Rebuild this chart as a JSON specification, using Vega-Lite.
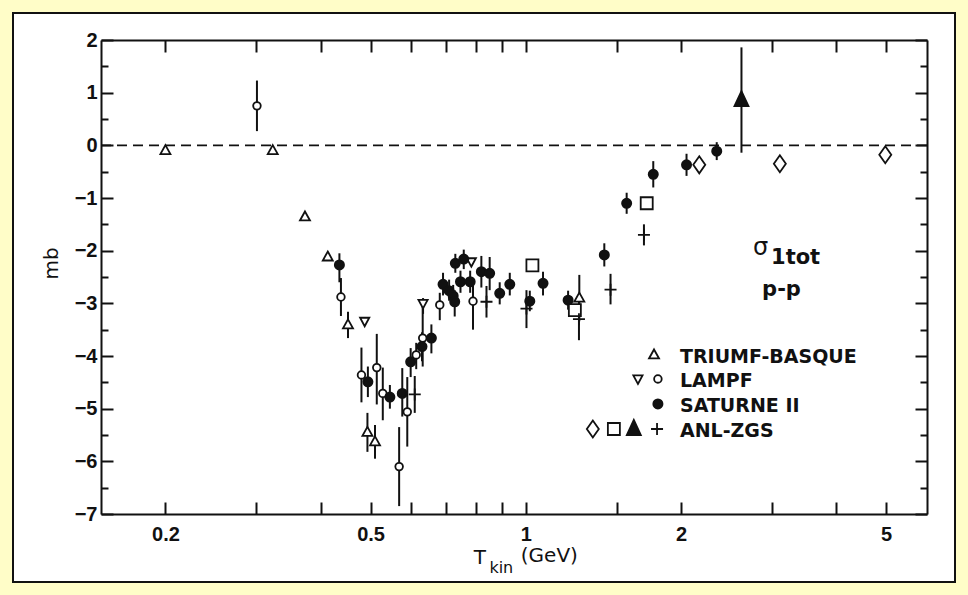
{
  "$schema": "https://vega.github.io/schema/vega-lite/v6.json",
  "width": 942,
  "height": 569,
  "autosize": {"type": "none"},
  "padding": 13,
  "background": "#FFFDC8",
  "config": {
    "view": {"fill": "white", "stroke": "#111", "strokeWidth": 2},
    "axis": {
      "grid": false,
      "domainColor": "#111",
      "domainWidth": 2,
      "tickColor": "#111",
      "tickWidth": 2,
      "labelColor": "#111",
      "labelFont": "Liberation Sans",
      "labelFontWeight": "bold",
      "labelFontSize": 20,
      "labelOverlap": false,
      "labelFlush": false,
      "titleColor": "#111"
    },
    "text": {"color": "#111", "font": "DejaVu Sans"}
  },
  "datasets": {
    "points": [
      {"set": "TRIUMF-BASQUE", "sym": "tri", "T": 0.200, "v": -0.10},
      {"set": "TRIUMF-BASQUE", "sym": "tri", "T": 0.323, "v": -0.10},
      {"set": "TRIUMF-BASQUE", "sym": "tri", "T": 0.373, "v": -1.36},
      {"set": "TRIUMF-BASQUE", "sym": "tri", "T": 0.413, "v": -2.12},
      {"set": "TRIUMF-BASQUE", "sym": "tri", "T": 0.452, "v": -3.41, "lo": -3.66, "hi": -3.16},
      {"set": "TRIUMF-BASQUE", "sym": "tri", "T": 0.493, "v": -5.45, "lo": -5.82, "hi": -5.08},
      {"set": "TRIUMF-BASQUE", "sym": "tri", "T": 0.510, "v": -5.63, "lo": -5.95, "hi": -5.31},
      {"set": "TRIUMF-BASQUE", "sym": "tri", "T": 1.270, "v": -2.90, "lo": -3.34, "hi": -2.46},
      {"set": "LAMPF", "sym": "tridown", "T": 0.487, "v": -3.34},
      {"set": "LAMPF", "sym": "tridown", "T": 0.632, "v": -3.00, "lo": -3.20, "hi": -2.90},
      {"set": "LAMPF", "sym": "tridown", "T": 0.784, "v": -2.21},
      {"set": "LAMPF", "sym": "circ", "T": 0.301, "v": 0.75, "lo": 0.27, "hi": 1.23},
      {"set": "LAMPF", "sym": "circ", "T": 0.438, "v": -2.88, "lo": -3.24, "hi": -2.52},
      {"set": "LAMPF", "sym": "circ", "T": 0.480, "v": -4.36, "lo": -4.88, "hi": -3.84},
      {"set": "LAMPF", "sym": "circ", "T": 0.514, "v": -4.22, "lo": -4.92, "hi": -3.58},
      {"set": "LAMPF", "sym": "circ", "T": 0.528, "v": -4.71, "lo": -5.22, "hi": -4.22},
      {"set": "LAMPF", "sym": "circ", "T": 0.568, "v": -6.10, "lo": -6.85, "hi": -5.35},
      {"set": "LAMPF", "sym": "circ", "T": 0.589, "v": -5.06, "lo": -5.72, "hi": -4.40},
      {"set": "LAMPF", "sym": "circ", "T": 0.613, "v": -3.98, "lo": -4.25, "hi": -3.75},
      {"set": "LAMPF", "sym": "circ", "T": 0.631, "v": -3.66, "lo": -4.20, "hi": -3.05},
      {"set": "LAMPF", "sym": "circ", "T": 0.681, "v": -3.03, "lo": -3.32, "hi": -2.80},
      {"set": "LAMPF", "sym": "circ", "T": 0.790, "v": -2.96, "lo": -3.50, "hi": -2.60},
      {"set": "SATURNE II", "sym": "dot", "T": 0.435, "v": -2.27, "lo": -2.60, "hi": -2.05},
      {"set": "SATURNE II", "sym": "dot", "T": 0.494, "v": -4.49, "lo": -4.78, "hi": -4.20},
      {"set": "SATURNE II", "sym": "dot", "T": 0.545, "v": -4.78, "lo": -5.00, "hi": -4.55},
      {"set": "SATURNE II", "sym": "dot", "T": 0.576, "v": -4.71, "lo": -5.15, "hi": -4.23},
      {"set": "SATURNE II", "sym": "dot", "T": 0.598, "v": -4.11, "lo": -4.40, "hi": -3.85},
      {"set": "SATURNE II", "sym": "dot", "T": 0.629, "v": -3.82, "lo": -4.10, "hi": -3.55},
      {"set": "SATURNE II", "sym": "dot", "T": 0.656, "v": -3.66, "lo": -3.95, "hi": -3.40},
      {"set": "SATURNE II", "sym": "dot", "T": 0.691, "v": -2.64, "lo": -2.85, "hi": -2.42},
      {"set": "SATURNE II", "sym": "dot", "T": 0.710, "v": -2.76, "lo": -2.95, "hi": -2.55},
      {"set": "SATURNE II", "sym": "dot", "T": 0.723, "v": -2.86, "lo": -3.05, "hi": -2.65},
      {"set": "SATURNE II", "sym": "dot", "T": 0.728, "v": -2.97, "lo": -3.25, "hi": -2.75},
      {"set": "SATURNE II", "sym": "dot", "T": 0.730, "v": -2.24, "lo": -2.42, "hi": -2.06},
      {"set": "SATURNE II", "sym": "dot", "T": 0.758, "v": -2.16, "lo": -2.35, "hi": -1.98},
      {"set": "SATURNE II", "sym": "dot", "T": 0.747, "v": -2.59, "lo": -2.80, "hi": -2.38},
      {"set": "SATURNE II", "sym": "dot", "T": 0.780, "v": -2.59, "lo": -2.80, "hi": -2.38},
      {"set": "SATURNE II", "sym": "dot", "T": 0.820, "v": -2.40, "lo": -2.70, "hi": -2.10},
      {"set": "SATURNE II", "sym": "dot", "T": 0.851, "v": -2.43, "lo": -2.75, "hi": -2.12},
      {"set": "SATURNE II", "sym": "dot", "T": 0.890, "v": -2.81, "lo": -3.02, "hi": -2.60},
      {"set": "SATURNE II", "sym": "dot", "T": 0.931, "v": -2.64, "lo": -2.85, "hi": -2.42},
      {"set": "SATURNE II", "sym": "dot", "T": 1.018, "v": -2.96, "lo": -3.15, "hi": -2.76},
      {"set": "SATURNE II", "sym": "dot", "T": 1.080, "v": -2.62, "lo": -2.85, "hi": -2.40},
      {"set": "SATURNE II", "sym": "dot", "T": 1.208, "v": -2.94, "lo": -3.12, "hi": -2.76},
      {"set": "SATURNE II", "sym": "dot", "T": 1.420, "v": -2.08, "lo": -2.30, "hi": -1.86},
      {"set": "SATURNE II", "sym": "dot", "T": 1.569, "v": -1.10, "lo": -1.30, "hi": -0.90},
      {"set": "SATURNE II", "sym": "dot", "T": 1.767, "v": -0.55, "lo": -0.80, "hi": -0.30},
      {"set": "SATURNE II", "sym": "dot", "T": 2.050, "v": -0.37, "lo": -0.58, "hi": -0.16},
      {"set": "SATURNE II", "sym": "dot", "T": 2.346, "v": -0.11, "lo": -0.28, "hi": 0.06},
      {"set": "ANL-ZGS", "sym": "diam", "T": 2.17, "v": -0.37},
      {"set": "ANL-ZGS", "sym": "diam", "T": 3.11, "v": -0.35},
      {"set": "ANL-ZGS", "sym": "diam", "T": 4.98, "v": -0.18},
      {"set": "ANL-ZGS", "sym": "sq", "T": 1.030, "v": -2.28},
      {"set": "ANL-ZGS", "sym": "sq", "T": 1.245, "v": -3.13},
      {"set": "ANL-ZGS", "sym": "sq", "T": 1.716, "v": -1.10},
      {"set": "ANL-ZGS", "sym": "trif", "T": 2.62, "v": 0.86, "lo": -0.14, "hi": 1.86},
      {"set": "ANL-ZGS", "sym": "plus", "T": 0.609, "v": -4.73, "lo": -5.08, "hi": -4.38},
      {"set": "ANL-ZGS", "sym": "plus", "T": 0.839, "v": -2.97, "lo": -3.27, "hi": -2.67},
      {"set": "ANL-ZGS", "sym": "plus", "T": 1.003, "v": -3.10, "lo": -3.47, "hi": -2.75},
      {"set": "ANL-ZGS", "sym": "plus", "T": 1.268, "v": -3.30, "lo": -3.70, "hi": -2.90},
      {"set": "ANL-ZGS", "sym": "plus", "T": 1.460, "v": -2.74, "lo": -3.02, "hi": -2.44},
      {"set": "ANL-ZGS", "sym": "plus", "T": 1.695, "v": -1.70, "lo": -1.90, "hi": -1.50}
    ],
    "legendSymbols": [
      {"sym": "tri", "T": 1.773, "v": -3.98},
      {"sym": "tridown", "T": 1.650, "v": -4.436},
      {"sym": "circ", "T": 1.804, "v": -4.436},
      {"sym": "dot", "T": 1.804, "v": -4.911},
      {"sym": "diam", "T": 1.349, "v": -5.386},
      {"sym": "sq", "T": 1.482, "v": -5.386},
      {"sym": "trif", "T": 1.620, "v": -5.386},
      {"sym": "plus", "T": 1.797, "v": -5.386}
    ],
    "legendLabels": [
      {"label": "TRIUMF-BASQUE", "T": 1.991, "v": -4.13},
      {"label": "LAMPF", "T": 1.991, "v": -4.59},
      {"label": "SATURNE II", "T": 1.991, "v": -5.06},
      {"label": "ANL-ZGS", "T": 1.991, "v": -5.54}
    ]
  },
  "layer": [
    {
      "description": "dashed zero line with the bottom and left axes",
      "data": {"values": [{}]},
      "mark": {"type": "rule", "stroke": "#111", "strokeWidth": 1.8, "strokeDash": [10, 6]},
      "encoding": {
        "x": {
          "datum": 0.15, "type": "quantitative",
          "scale": {"type": "log", "domain": [0.15, 6], "range": [88, 914], "nice": false},
          "axis": {
            "orient": "bottom", "offset": -68, "title": null,
            "values": [0.2, 0.3, 0.4, 0.5, 0.6, 0.7, 0.8, 0.9, 1, 1.5, 2, 3, 4, 5],
            "format": "~g",
            "labelExpr": "indexof([0.2, 0.5, 1, 2, 5], datum.value) >= 0 ? datum.label : ''",
            "tickSize": -12, "labelPadding": 22
          }
        },
        "x2": {"datum": 6},
        "y": {
          "datum": 0, "type": "quantitative",
          "scale": {"domain": [-7, 2], "range": [501, 27], "nice": false, "zero": false},
          "axis": {
            "orient": "left", "offset": -88,
            "values": [-7, -6, -5, -4, -3, -2, -1, 0, 1, 2],
            "format": "~g", "tickSize": -12, "labelPadding": 16,
            "title": "mb", "titleX": -40, "titleY": 250,
            "titleFont": "DejaVu Sans", "titleFontSize": 20, "titleFontWeight": "normal"
          }
        }
      }
    },
    {
      "description": "error bars with the top and right axes",
      "data": {"name": "points"},
      "transform": [{"filter": "datum.lo != null"}],
      "mark": {"type": "rule", "stroke": "#111", "strokeWidth": 2},
      "encoding": {
        "x": {
          "field": "T", "type": "quantitative",
          "scale": {"type": "log", "domain": [0.15, 6], "range": [88, 914], "nice": false},
          "axis": {
            "orient": "top", "offset": -27, "title": null, "labels": false,
            "values": [0.2, 0.3, 0.4, 0.5, 0.6, 0.7, 0.8, 0.9, 1, 1.5, 2, 3, 4, 5],
            "tickSize": -12
          }
        },
        "y": {
          "field": "lo", "type": "quantitative",
          "scale": {"domain": [-7, 2], "range": [501, 27], "nice": false, "zero": false},
          "axis": {
            "orient": "right", "offset": -28, "title": null, "labels": false,
            "values": [-7, -6, -5, -4, -3, -2, -1, 0, 1, 2], "tickSize": -12
          }
        },
        "y2": {"field": "hi"}
      }
    },
    {
      "description": "data symbols, with the left half-unit ticks",
      "data": {"name": "points"},
      "mark": {"type": "point", "size": 4, "stroke": "#111", "strokeWidth": 1.8, "opacity": 1},
      "encoding": {
        "x": {
          "field": "T", "type": "quantitative",
          "scale": {"type": "log", "domain": [0.15, 6], "range": [88, 914], "nice": false},
          "axis": null
        },
        "y": {
          "field": "v", "type": "quantitative",
          "scale": {"domain": [-7, 2], "range": [501, 27], "nice": false, "zero": false},
          "axis": {
            "orient": "left", "offset": -88, "title": null, "labels": false, "domain": false,
            "values": [-6.5, -5.5, -4.5, -3.5, -2.5, -1.5, -0.5, 0.5, 1.5], "tickSize": -7
          }
        },
        "shape": {
          "field": "sym", "type": "nominal", "legend": null,
          "scale": {
            "domain": ["tri", "tridown", "circ", "dot", "diam", "sq", "trif", "plus"],
            "range": [
              "M0,-5.5L5,3.5L-5,3.5Z",
              "M0,5L4.6,-3.5L-4.6,-3.5Z",
              "M-3.8,0A3.8,3.8,0,1,0,3.8,0A3.8,3.8,0,1,0,-3.8,0Z",
              "M-4.6,0A4.6,4.6,0,1,0,4.6,0A4.6,4.6,0,1,0,-4.6,0Z",
              "M0,-8.5L6,0L0,8.5L-6,0Z",
              "M-6,-6H6V6H-6Z",
              "M0,-9L7,6L-7,6Z",
              "M-6,0H6M0,-6V6"
            ]
          }
        },
        "fill": {
          "field": "sym", "type": "nominal", "legend": null,
          "scale": {
            "domain": ["tri", "tridown", "circ", "dot", "diam", "sq", "trif", "plus"],
            "range": ["white", "white", "white", "#111", "white", "white", "#111", "transparent"]
          }
        }
      }
    },
    {
      "description": "legend symbols, with the right half-unit ticks",
      "data": {"name": "legendSymbols"},
      "mark": {"type": "point", "size": 4, "stroke": "#111", "strokeWidth": 1.8, "opacity": 1},
      "encoding": {
        "x": {
          "field": "T", "type": "quantitative",
          "scale": {"type": "log", "domain": [0.15, 6], "range": [88, 914], "nice": false},
          "axis": null
        },
        "y": {
          "field": "v", "type": "quantitative",
          "scale": {"domain": [-7, 2], "range": [501, 27], "nice": false, "zero": false},
          "axis": {
            "orient": "right", "offset": -28, "title": null, "labels": false, "domain": false,
            "values": [-6.5, -5.5, -4.5, -3.5, -2.5, -1.5, -0.5, 0.5, 1.5], "tickSize": -7
          }
        },
        "shape": {"field": "sym", "type": "nominal", "legend": null},
        "fill": {"field": "sym", "type": "nominal", "legend": null}
      }
    },
    {
      "description": "legend labels",
      "data": {"name": "legendLabels"},
      "mark": {"type": "text", "align": "left", "baseline": "alphabetic", "fontSize": 19, "fontWeight": "bold"},
      "encoding": {
        "x": {"field": "T", "type": "quantitative", "scale": {"type": "log", "domain": [0.15, 6], "range": [88, 914], "nice": false}, "axis": null},
        "y": {"field": "v", "type": "quantitative", "scale": {"domain": [-7, 2], "range": [501, 27], "nice": false, "zero": false}, "axis": null},
        "text": {"field": "label"}
      }
    },
    {
      "description": "sigma of the observable label",
      "data": {"values": [{"label": "σ", "T": 2.76, "v": -2.09}]},
      "mark": {"type": "text", "align": "left", "baseline": "alphabetic", "fontSize": 24},
      "encoding": {
        "x": {"field": "T", "type": "quantitative", "scale": {"type": "log", "domain": [0.15, 6], "range": [88, 914], "nice": false}, "axis": null},
        "y": {"field": "v", "type": "quantitative", "scale": {"domain": [-7, 2], "range": [501, 27], "nice": false, "zero": false}, "axis": null},
        "text": {"field": "label"}
      }
    },
    {
      "description": "subscript of the observable and the reaction",
      "data": {"values": [{"label": "1tot", "T": 2.99, "v": -2.253}, {"label": "p-p", "T": 2.873, "v": -2.86}]},
      "mark": {"type": "text", "align": "left", "baseline": "alphabetic", "fontSize": 21, "fontWeight": "bold"},
      "encoding": {
        "x": {"field": "T", "type": "quantitative", "scale": {"type": "log", "domain": [0.15, 6], "range": [88, 914], "nice": false}, "axis": null},
        "y": {"field": "v", "type": "quantitative", "scale": {"domain": [-7, 2], "range": [501, 27], "nice": false, "zero": false}, "axis": null},
        "text": {"field": "label"}
      }
    },
    {
      "description": "x axis title: T and unit",
      "data": {"values": [{"label": "T", "T": 0.793, "v": -7.95}, {"label": "(GeV)", "T": 0.978, "v": -7.91}]},
      "mark": {"type": "text", "align": "left", "baseline": "alphabetic", "fontSize": 20},
      "encoding": {
        "x": {"field": "T", "type": "quantitative", "scale": {"type": "log", "domain": [0.15, 6], "range": [88, 914], "nice": false}, "axis": null},
        "y": {"field": "v", "type": "quantitative", "scale": {"domain": [-7, 2], "range": [501, 27], "nice": false, "zero": false}, "axis": null},
        "text": {"field": "label"}
      }
    },
    {
      "description": "x axis title: kinetic subscript",
      "data": {"values": [{"label": "kin", "T": 0.85, "v": -8.12}]},
      "mark": {"type": "text", "align": "left", "baseline": "alphabetic", "fontSize": 16},
      "encoding": {
        "x": {"field": "T", "type": "quantitative", "scale": {"type": "log", "domain": [0.15, 6], "range": [88, 914], "nice": false}, "axis": null},
        "y": {"field": "v", "type": "quantitative", "scale": {"domain": [-7, 2], "range": [501, 27], "nice": false, "zero": false}, "axis": null},
        "text": {"field": "label"}
      }
    }
  ],
  "resolve": {"axis": {"x": "independent", "y": "independent"}}
}
